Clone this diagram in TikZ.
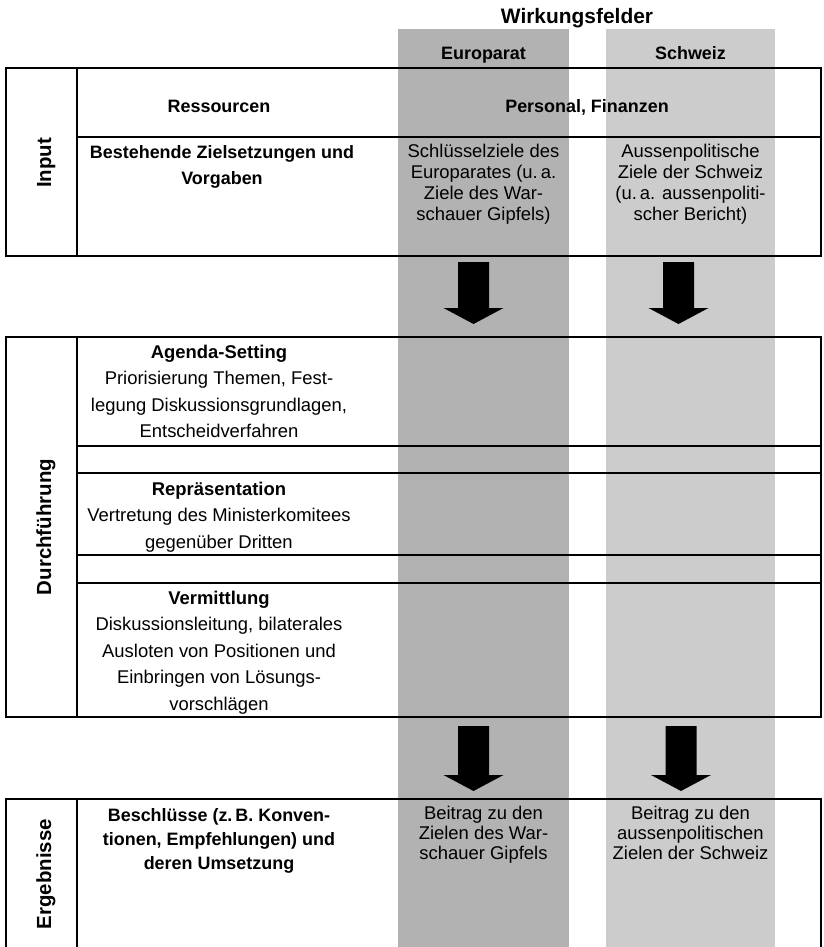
\documentclass[tikz,border=0pt]{standalone}
\usepackage{fontspec}
\setmainfont{Liberation Sans}
\usetikzlibrary{calc}

\definecolor{europagrau}{gray}{0.70}
\definecolor{schweizgrau}{gray}{0.80}

% Blockpfeil nach unten: x-Mitte, Oberkante, Spitze
\newcommand{\blockpfeil}[3]{%
  \fill (#1-15.5,#2) -- (#1+15.5,#2) -- (#1+15.5,#3-16) -- (#1+30,#3-16)
    -- (#1,#3) -- (#1-30,#3-16) -- (#1-15.5,#3-16) -- cycle;}

\begin{document}
\begin{tikzpicture}[
        x=1bp, y=-1bp,
        rahmen/.style={line width=1.7bp},
        normal/.style={font=\fontsize{18.5}{21}\selectfont, align=center,
                       inner sep=0pt, anchor=base},
        fett/.style={font=\bfseries\fontsize{18}{26}\selectfont, align=center,
                     inner sep=0pt, anchor=base},
        zeile/.style={font=\fontsize{18.5}{26.5}\selectfont, align=center,
                      inner sep=0pt, anchor=base},
        seite/.style={font=\bfseries\fontsize{20.5}{24}\selectfont,
                      rotate=90, inner sep=0pt, anchor=base},
    ]
    \useasboundingbox (0,0) rectangle (824,947);

    % Wirkungsfelder (Spalten)
    \fill[europagrau] (398,29) rectangle (569,947);
    \fill[schweizgrau] (606,29) rectangle (775,947);

    \node[fett, font=\bfseries\fontsize{21}{24}\selectfont] (wirkung) at (577,23) {Wirkungsfelder};
    \node[fett] (europarat) at (483.5,59) {Europarat};
    \node[fett] (schweiz) at (690.5,59) {Schweiz};

    % Input (Grundlinie der letzten Zeile)
    \draw[rahmen] (6,68) rectangle (821,256);
    \draw[rahmen] (77,68) -- (77,256);
    \draw[rahmen] (77,137) -- (821,137);
    \node[seite] (input) at (51,163) {Input};
    \node[fett] (ressourcen) at (219,112) {Ressourcen};
    \node[fett] (personal) at (587,112) {Personal, Finanzen};
    \node[fett] (vorgaben) at (222,184) {Bestehende Zielsetzungen und\\Vorgaben};
    \node[normal] (ziele-ep) at (483.5,220)
        {Schlüsselziele des\\Europarates (u.\,a.\\Ziele des War-\\schauer Gipfels)};
    \node[normal] (ziele-ch) at (690.5,220)
        {Aussenpolitische\\Ziele der Schweiz\\(u.\,a. aussenpoliti-\\scher Bericht)};

    \blockpfeil{473.5}{262}{324}
    \blockpfeil{678.5}{262}{324}

    % Durchfuehrung
    \draw[rahmen] (6,337) rectangle (821,717);
    \draw[rahmen] (77,337) -- (77,717);
    \foreach \y in {446,473,555,583}
        \draw[rahmen] (77,\y) -- (821,\y);
    \node[seite] (durchf) at (51,527) {Durchführung};
    \node[zeile] (agenda) at (219,437.5)
        {{\bfseries Agenda-Setting}\\Priorisierung Themen, Fest-\\legung Diskussionsgrundlagen,\\Entscheidverfahren};
    \node[zeile] (repr) at (219,548)
        {{\bfseries Repräsentation}\\Vertretung des Ministerkomitees\\gegenüber Dritten};
    \node[zeile] (vermittl) at (219,710)
        {{\bfseries Vermittlung}\\Diskussionsleitung, bilaterales\\Ausloten von Positionen und\\Einbringen von Lösungs-\\vorschlägen};

    \blockpfeil{473.5}{726}{791}
    \blockpfeil{681}{726}{791}

    % Ergebnisse
    \draw[rahmen] (6,947) -- (6,799) -- (821,799) -- (821,947);
    \draw[rahmen] (77,799) -- (77,947);
    \node[seite] (ergebn) at (51,874) {Ergebnisse};
    \node[fett, font=\bfseries\fontsize{18}{24}\selectfont] (beschl) at (219,869)
        {Beschlüsse (z.\,B. Konven-\\tionen, Empfehlungen) und\\deren Umsetzung};
    \node[normal, font=\fontsize{18.5}{20}\selectfont] (beitrag-ep) at (483.5,859)
        {Beitrag zu den\\Zielen des War-\\schauer Gipfels};
    \node[normal, font=\fontsize{18.5}{20}\selectfont] (beitrag-ch) at (690.5,859)
        {Beitrag zu den\\aussenpolitischen\\Zielen der Schweiz};
\end{tikzpicture}
\end{document}
